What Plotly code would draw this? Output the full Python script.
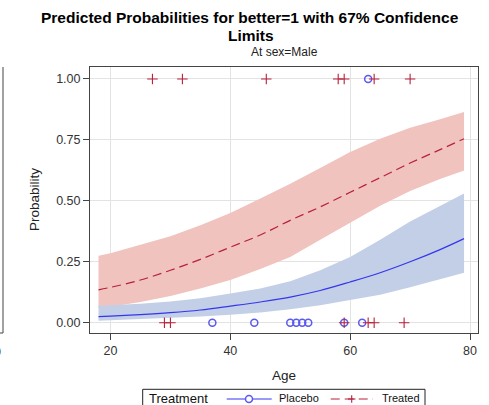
import plotly.graph_objects as go

# ---- data ----
ages = [18, 20, 25, 30, 35, 40, 45, 50, 55, 60, 65, 70, 75, 79]

treated_pred = [0.135, 0.145, 0.175, 0.215, 0.26, 0.31, 0.36, 0.42, 0.475, 0.535, 0.595, 0.655, 0.71, 0.755]
treated_lcl = [0.06, 0.065, 0.085, 0.11, 0.14, 0.175, 0.22, 0.27, 0.34, 0.41, 0.48, 0.54, 0.59, 0.625]
treated_ucl = [0.275, 0.285, 0.32, 0.355, 0.40, 0.45, 0.51, 0.57, 0.635, 0.70, 0.755, 0.80, 0.835, 0.865]

placebo_pred = [0.025, 0.027, 0.033, 0.041, 0.052, 0.068, 0.085, 0.105, 0.132, 0.167, 0.205, 0.25, 0.30, 0.345]
placebo_lcl = [0.008, 0.01, 0.014, 0.019, 0.025, 0.033, 0.042, 0.055, 0.072, 0.093, 0.115, 0.145, 0.178, 0.205]
placebo_ucl = [0.07, 0.072, 0.078, 0.087, 0.10, 0.12, 0.14, 0.17, 0.215, 0.27, 0.34, 0.415, 0.48, 0.53]

treated_obs_age = [27, 32, 46, 58, 59, 64, 70, 29, 30, 59, 63, 64, 69]
treated_obs_y = [1, 1, 1, 1, 1, 1, 1, 0, 0, 0, 0, 0, 0]
placebo_obs_age = [63, 37, 44, 50, 51, 52, 53, 59, 62]
placebo_obs_y = [1, 0, 0, 0, 0, 0, 0, 0, 0]

x_ticks = [20, 40, 60, 80]
y_ticks = [0.0, 0.25, 0.5, 0.75, 1.0]
y_tick_text = ["0.00", "0.25", "0.50", "0.75", "1.00"]

legend_title = "Treatment"
legend_names = ["Placebo", "Treated"]

# ---- styles ----
FONT = "Liberation Sans, Arial, sans-serif"
RED_FILL = "#f0c3be"
BLUE_FILL = "#c3cfe7"
RED = "#b8213a"
BLUE = "#3535ee"
BLUE_MK = "#5a5aee"

W, H = 489, 405
L, R, T, B = 90, 11, 67, 72
PW, PH = W - L - R, H - T - B


def px(xp):
    return (xp - L) / PW


def py(yp):
    return (H - B - yp) / PH


fig = go.Figure()

# bands
fig.add_trace(go.Scatter(x=ages, y=treated_ucl, mode="lines", line=dict(width=0),
                         showlegend=False, hoverinfo="skip"))
fig.add_trace(go.Scatter(x=ages, y=treated_lcl, mode="lines", line=dict(width=0),
                         fill="tonexty", fillcolor=RED_FILL, showlegend=False, hoverinfo="skip"))
fig.add_trace(go.Scatter(x=ages, y=placebo_ucl, mode="lines", line=dict(width=0),
                         showlegend=False, hoverinfo="skip"))
fig.add_trace(go.Scatter(x=ages, y=placebo_lcl, mode="lines", line=dict(width=0),
                         fill="tonexty", fillcolor=BLUE_FILL, showlegend=False, hoverinfo="skip"))

# predicted curves
fig.add_trace(go.Scatter(x=ages, y=placebo_pred, mode="lines", name=legend_names[0],
                         line=dict(color=BLUE, width=1.2, shape="spline"), showlegend=False))
fig.add_trace(go.Scatter(x=ages, y=treated_pred, mode="lines", name=legend_names[1],
                         line=dict(color=RED, width=1.2, dash="9px,5px", shape="spline"), showlegend=False))

# observations
MK_P = dict(symbol="circle-open", size=7, color=BLUE_MK, line=dict(width=1.5, color=BLUE_MK))
MK_T = dict(symbol="cross-thin", size=7.5, color=RED, line=dict(width=1.1, color=RED))
fig.add_trace(go.Scatter(x=placebo_obs_age, y=placebo_obs_y, mode="markers", marker=MK_P,
                         showlegend=False, cliponaxis=False))
fig.add_trace(go.Scatter(x=treated_obs_age, y=treated_obs_y, mode="markers", marker=MK_T,
                         showlegend=False, cliponaxis=False))

axis_common = dict(showgrid=True, gridcolor="#e3e3e3", gridwidth=1, zeroline=False,
                   showline=True, linecolor="#444", linewidth=1, mirror=True,
                   ticks="outside", ticklen=6, tickcolor="#444",
                   tickfont=dict(family=FONT, size=12.5, color="#333"))

fig.update_xaxes(range=[16.58, 81.33], tickvals=x_ticks, **axis_common)
fig.update_yaxes(range=[-0.0423, 1.0492], tickvals=y_ticks, ticktext=y_tick_text, **axis_common)

LEG_Y = 399
TXT_Y = 398
annotations = [
    dict(text="<b>Predicted Probabilities for better=1 with 67% Confidence</b>", x=px(250), y=py(17.7),
         font=dict(size=15.5, color="#000")),
    dict(text="<b>Limits</b>", x=px(251), y=py(36), font=dict(size=15.5, color="#000")),
    dict(text="At sex=Male", x=px(284), y=py(52), font=dict(size=12, color="#222")),
    dict(text="Age", x=px(283.5), y=py(375), font=dict(size=13.5, color="#222")),
    dict(text="Probability", x=px(34), y=py(200), textangle=-90, font=dict(size=13.5, color="#222")),
    dict(text="0", x=px(3), y=py(352), xanchor="right", font=dict(size=12.5, color="#333")),
    # legend texts
    dict(text=legend_title, x=px(147), y=py(TXT_Y), xanchor="left", font=dict(size=13, color="#111")),
    dict(text=legend_names[0], x=px(277), y=py(TXT_Y), xanchor="left", font=dict(size=11, color="#111")),
    dict(text=legend_names[1], x=px(380), y=py(TXT_Y), xanchor="left", font=dict(size=11, color="#111")),
]
for a in annotations:
    a.setdefault("xanchor", "center")
    a.update(xref="paper", yref="paper", yanchor="middle", showarrow=False)
    a["font"]["family"] = FONT


def pline(x0, y0, x1, y1, color, width=1, dash="solid"):
    return dict(type="line", xref="paper", yref="paper", x0=px(x0), x1=px(x1), y0=py(y0), y1=py(y1),
                line=dict(color=color, width=width, dash=dash))


shapes = [
    # edge of the neighbouring panel
    pline(3, 67, 3, 333, "#444"),
    pline(-2, 333, 3, 333, "#444"),
    # legend frame
    dict(type="rect", xref="paper", yref="paper", x0=px(142.7), x1=px(425), y0=py(389.3), y1=py(415),
         line=dict(color="#222", width=1), fillcolor="white", layer="above"),
    # legend symbols
    pline(226.7, LEG_Y, 271.7, LEG_Y, BLUE, 1.2),
    dict(type="circle", xref="paper", yref="paper", x0=px(249 - 3.5), x1=px(249 + 3.5),
         y0=py(LEG_Y + 3.5), y1=py(LEG_Y - 3.5), line=dict(color=BLUE_MK, width=1.5), fillcolor="white"),
    pline(330.7, LEG_Y, 373, LEG_Y, RED, 1.2, "9px,5px"),
    pline(351.7 - 3.75, LEG_Y, 351.7 + 3.75, LEG_Y, RED, 1.1),
    pline(351.7, LEG_Y - 3.75, 351.7, LEG_Y + 3.75, RED, 1.1),
]

fig.update_layout(
    width=W, height=H,
    margin=dict(l=L, r=R, t=T, b=B, autoexpand=False),
    paper_bgcolor="white", plot_bgcolor="white",
    font=dict(family=FONT, color="#222"),
    annotations=annotations,
    shapes=shapes,
    showlegend=False,
)

fig.write_html("out.html")
